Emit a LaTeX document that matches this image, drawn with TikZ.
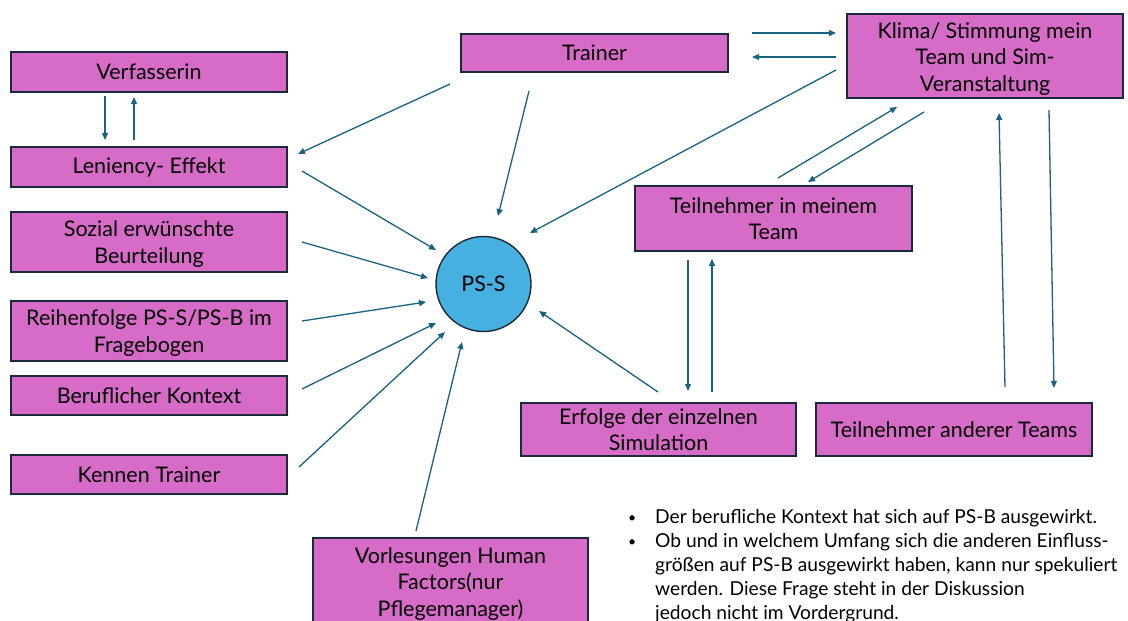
\documentclass[tikz,border=0pt]{standalone}
\usepackage{fontspec}
\setmainfont{Lato}
\usetikzlibrary{arrows.meta}
\definecolor{boxfill}{RGB}{214,108,199}
\definecolor{boxline}{RGB}{26,42,60}
\definecolor{circfill}{RGB}{70,177,225}
\definecolor{arr}{RGB}{24,98,130}
\newcommand{\lowtext}[2]{\raisebox{-#1}[\height][\depth]{\parbox{270pt}{\centering #2}}}
\tikzset{
  box/.style={draw=boxline, line width=1.4pt, fill=boxfill, align=center, inner sep=0pt,
    font=\fontsize{21.5}{26.5}\selectfont, text=black},
  conn/.style={draw=arr, line width=1.3pt, -{Triangle[length=7pt,width=6pt]}},
  bul/.style={anchor=base west, inner sep=0pt, font=\fontsize{19.2}{24}\selectfont},
  dot/.style={anchor=base west, inner sep=0pt, font=\fontsize{14}{24}\selectfont}
}
\begin{document}
\begin{tikzpicture}[x=1pt,y=-1pt]
\useasboundingbox (0,0) rectangle (1128,621);
\clip (0,0) rectangle (1128,621);
\fill[white] (0,0) rectangle (1128,621);
% boxes
\node[box, minimum width=276pt, minimum height=40pt] (verf) at (149,72) {Verfasserin};
\node[box, minimum width=276pt, minimum height=40pt] (len) at (149,167) {Leniency- Effekt};
\node[box, minimum width=276pt, minimum height=60pt] (soz) at (149,242) {\lowtext{2pt}{Sozial erwünschte\\Beurteilung}};
\node[box, minimum width=276pt, minimum height=60pt] (reih) at (149,331) {\lowtext{2pt}{Reihenfolge PS-S/PS-B im\\Fragebogen}};
\node[box, minimum width=276pt, minimum height=39pt] (beruf) at (149,395.5) {Beruflicher Kontext};
\node[box, minimum width=276pt, minimum height=39pt] (kenn) at (149,474.5) {Kennen Trainer};
\node[box, minimum width=267pt, minimum height=38pt] (trainer) at (594.5,53) {Trainer};
\node[box, minimum width=276pt, minimum height=84pt] (klima) at (985,56) {\lowtext{3pt}{Klima/ Stimmung mein\\Team und Sim-\\Veranstaltung}};
\node[box, minimum width=277pt, minimum height=65pt] (tmt) at (773.5,218.5) {Teilnehmer in meinem\\Team};
\node[box, minimum width=275pt, minimum height=53pt] (erf) at (658.5,429.5) {Erfolge der einzelnen\\Simulation};
\node[box, minimum width=276pt, minimum height=53pt] (tat) at (954,429.5) {Teilnehmer anderer Teams};
\node[box, minimum width=275pt, minimum height=86pt] (vorl) at (450.5,581) {\lowtext{3pt}{Vorlesungen Human\\Factors(nur\\Pflegemanager)}};
\node[box, circle, fill=circfill, minimum size=95pt] (ps) at (483.5,284) {PS-S};
% connector end points
\coordinate (vl1) at (105,96);  \coordinate (vl2) at (105,140);
\coordinate (lv1) at (134,140); \coordinate (lv2) at (134,97);
\coordinate (tl1) at (450,84);  \coordinate (tl2) at (298,154);
\coordinate (tp1) at (529,91);  \coordinate (tp2) at (498,216);
\coordinate (tk1) at (752,33);  \coordinate (tk2) at (836,33);
\coordinate (kt1) at (836,57);  \coordinate (kt2) at (752,57);
\coordinate (kp1) at (836,70);  \coordinate (kp2) at (530,233);
\coordinate (lp1) at (302,171); \coordinate (lp2) at (436,250);
\coordinate (sp1) at (302,242); \coordinate (sp2) at (428,278);
\coordinate (rp1) at (302,321); \coordinate (rp2) at (426,302);
\coordinate (bp1) at (302,389); \coordinate (bp2) at (436,323);
\coordinate (kep1) at (299,467); \coordinate (kep2) at (445,332);
\coordinate (vp1) at (416,531); \coordinate (vp2) at (462,342);
\coordinate (ep1) at (658,392); \coordinate (ep2) at (539,311);
\coordinate (te1) at (688,260); \coordinate (te2) at (688,391);
\coordinate (et1) at (712,392); \coordinate (et2) at (712,259);
\coordinate (mk1) at (778,178); \coordinate (mk2) at (897,107);
\coordinate (km1) at (924,112); \coordinate (km2) at (808,182);
\coordinate (ak1) at (1005,387); \coordinate (ak2) at (999,113);
\coordinate (ka1) at (1049,110); \coordinate (ka2) at (1054,388);
% connectors
\draw[conn] (vl1) -- (vl2);
\draw[conn] (lv1) -- (lv2);
\draw[conn] (tl1) -- (tl2);
\draw[conn] (tp1) -- (tp2);
\draw[conn] (tk1) -- (tk2);
\draw[conn] (kt1) -- (kt2);
\draw[conn] (kp1) -- (kp2);
\draw[conn] (lp1) -- (lp2);
\draw[conn] (sp1) -- (sp2);
\draw[conn] (rp1) -- (rp2);
\draw[conn] (bp1) -- (bp2);
\draw[conn] (kep1) -- (kep2);
\draw[conn] (vp1) -- (vp2);
\draw[conn] (ep1) -- (ep2);
\draw[conn] (te1) -- (te2);
\draw[conn] (et1) -- (et2);
\draw[conn] (mk1) -- (mk2);
\draw[conn] (km1) -- (km2);
\draw[conn] (ak1) -- (ak2);
\draw[conn] (ka1) -- (ka2);
% bullet text
\node[dot] (b1) at (628,522) {•};
\node[bul] (l1) at (655,523) {Der berufliche Kontext hat sich auf PS-B ausgewirkt.};
\node[dot] (b2) at (628,546) {•};
\node[bul] (l2) at (655,547) {Ob und in welchem Umfang sich die anderen Einfluss-};
\node[bul] (l3) at (655,571) {größen auf PS-B ausgewirkt haben, kann nur spekuliert};
\node[bul] (l4) at (655,595) {werden. Diese Frage steht in der Diskussion};
\node[bul] (l5) at (655,619) {jedoch nicht im Vordergrund.};
\end{tikzpicture}
\end{document}
